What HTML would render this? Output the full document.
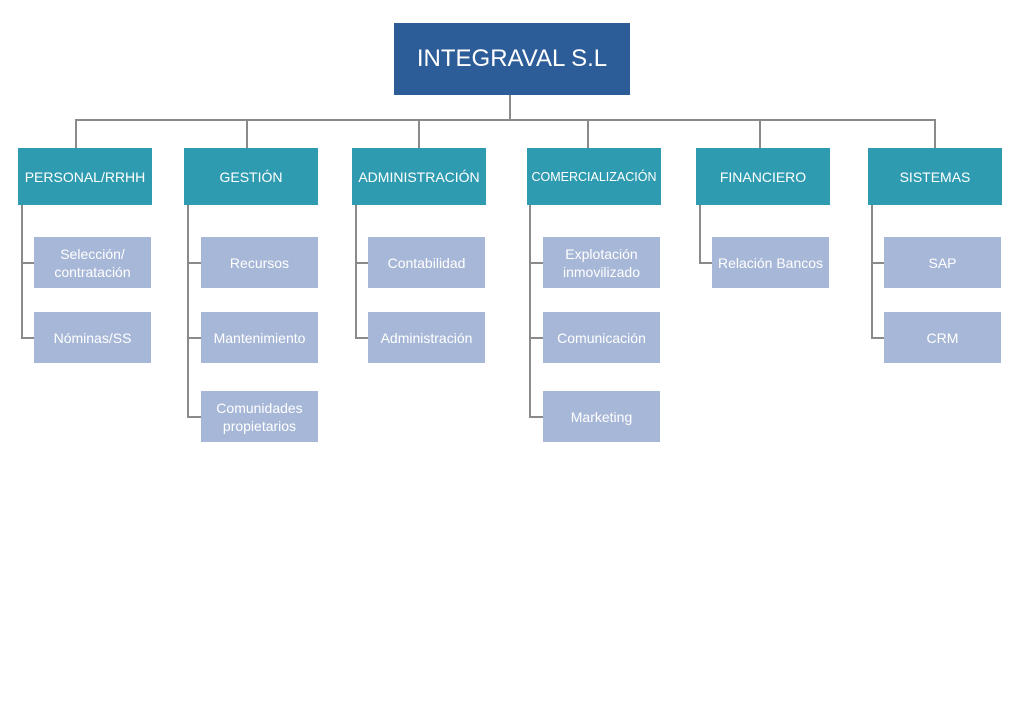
<!DOCTYPE html>
<html><head><meta charset="utf-8"><style>
body{margin:0;width:1024px;height:724px;background:#fff;position:relative;overflow:hidden;font-family:"Liberation Sans",sans-serif}
.b{position:absolute;display:flex;align-items:center;justify-content:center;text-align:center;color:#fff;box-sizing:border-box}
.h{background:#2f9bb1;width:134px;height:57px;top:148px;font-size:14px}
.c{background:#a7b7d7;width:117px;height:51px;font-size:14px;line-height:18px}
.l{position:absolute;background:#8a8a8a}
</style></head><body>
<div class="b" style="left:394px;top:23px;width:236px;height:72px;background:#2d5d98;font-size:24px">INTEGRAVAL S.L</div>
<div class="l" style="left:509px;top:95px;width:2px;height:26px"></div>
<div class="l" style="left:75px;top:119px;width:861px;height:2px"></div>
<div class="l" style="left:75px;top:119px;width:2px;height:29px"></div>
<div class="l" style="left:246px;top:119px;width:2px;height:29px"></div>
<div class="l" style="left:418px;top:119px;width:2px;height:29px"></div>
<div class="l" style="left:587px;top:119px;width:2px;height:29px"></div>
<div class="l" style="left:759px;top:119px;width:2px;height:29px"></div>
<div class="l" style="left:934px;top:119px;width:2px;height:29px"></div>

<div class="b h" style="left:18px">PERSONAL/RRHH</div>
<div class="b h" style="left:184px">GESTIÓN</div>
<div class="b h" style="left:352px">ADMINISTRACIÓN</div>
<div class="b h" style="left:527px;font-size:12.5px">COMERCIALIZACIÓN</div>
<div class="b h" style="left:696px">FINANCIERO</div>
<div class="b h" style="left:868px">SISTEMAS</div>

<!-- connectors -->
<div class="l" style="left:21px;top:205px;width:2px;height:133px"></div>
<div class="l" style="left:21px;top:262px;width:13px;height:2px"></div>
<div class="l" style="left:21px;top:337px;width:13px;height:2px"></div>
<div class="l" style="left:187px;top:205px;width:2px;height:212px"></div>
<div class="l" style="left:187px;top:262px;width:14px;height:2px"></div>
<div class="l" style="left:187px;top:337px;width:14px;height:2px"></div>
<div class="l" style="left:187px;top:416px;width:14px;height:2px"></div>
<div class="l" style="left:355px;top:205px;width:2px;height:134px"></div>
<div class="l" style="left:355px;top:262px;width:13px;height:2px"></div>
<div class="l" style="left:355px;top:337px;width:13px;height:2px"></div>
<div class="l" style="left:529px;top:205px;width:2px;height:213px"></div>
<div class="l" style="left:529px;top:262px;width:14px;height:2px"></div>
<div class="l" style="left:529px;top:337px;width:14px;height:2px"></div>
<div class="l" style="left:529px;top:416px;width:14px;height:2px"></div>
<div class="l" style="left:699px;top:205px;width:2px;height:58px"></div>
<div class="l" style="left:699px;top:262px;width:13px;height:2px"></div>
<div class="l" style="left:871px;top:205px;width:2px;height:134px"></div>
<div class="l" style="left:871px;top:262px;width:13px;height:2px"></div>
<div class="l" style="left:871px;top:337px;width:13px;height:2px"></div>

<div class="b c" style="left:34px;top:237px">Selección/<br>contratación</div>
<div class="b c" style="left:34px;top:312px">Nóminas/SS</div>
<div class="b c" style="left:201px;top:237px">Recursos</div>
<div class="b c" style="left:201px;top:312px">Mantenimiento</div>
<div class="b c" style="left:201px;top:391px">Comunidades<br>propietarios</div>
<div class="b c" style="left:368px;top:237px">Contabilidad</div>
<div class="b c" style="left:368px;top:312px">Administración</div>
<div class="b c" style="left:543px;top:237px">Explotación<br>inmovilizado</div>
<div class="b c" style="left:543px;top:312px">Comunicación</div>
<div class="b c" style="left:543px;top:391px">Marketing</div>
<div class="b c" style="left:712px;top:237px">Relación Bancos</div>
<div class="b c" style="left:884px;top:237px">SAP</div>
<div class="b c" style="left:884px;top:312px">CRM</div>
</body></html>
